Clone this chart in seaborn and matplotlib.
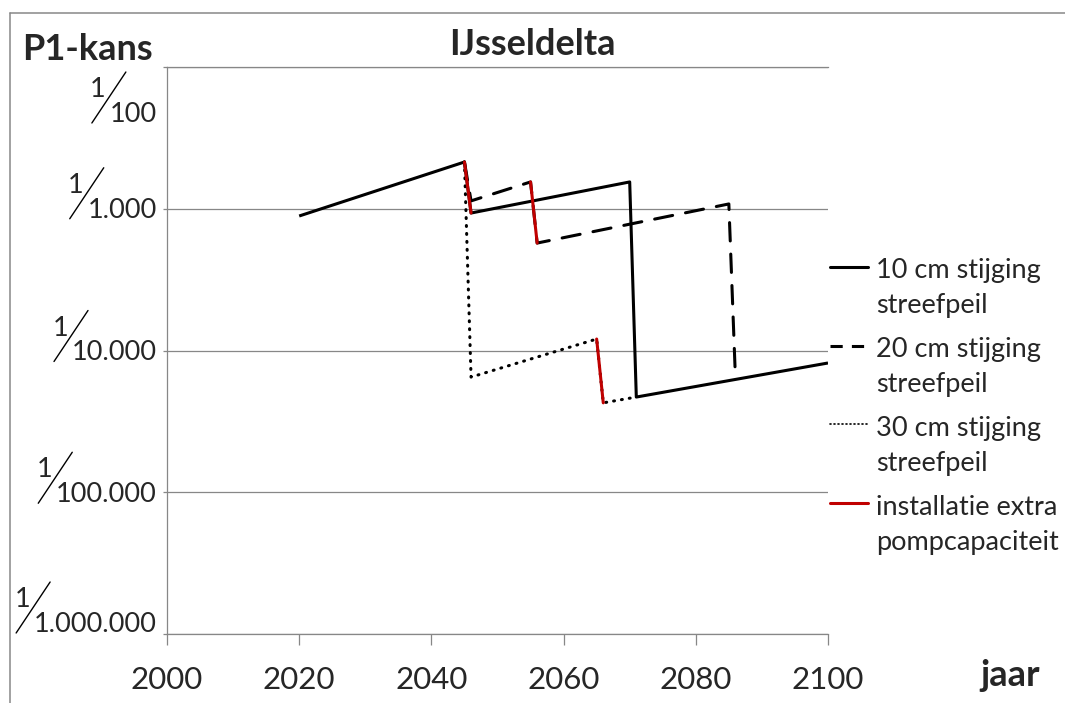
import matplotlib
matplotlib.use("Agg")
import numpy as np
import pandas as pd
import matplotlib.pyplot as plt
from matplotlib import font_manager
from matplotlib.legend_handler import HandlerLine2D
from matplotlib.lines import Line2D
import seaborn as sns

# P1 return periods (1 / kans, years) per scenario of target-level rise
jaar_10cm = [2020, 2045, 2046, 2070, 2071, 2100]
terugkeer_10cm = [1125, 468, 1072, 647, 21300, 12250]

jaar_20cm = [2045, 2046, 2055, 2056, 2085, 2086]
terugkeer_20cm = [468, 880, 647, 1746, 925, 15800]

jaar_30cm = [2045, 2046, 2065, 2066, 2071]
terugkeer_30cm = [468, 15400, 8300, 23400, 21300]

scenario_labels = ["10 cm stijging\nstreefpeil",
                   "20 cm stijging\nstreefpeil",
                   "30 cm stijging\nstreefpeil"]
pomp_label = "installatie extra\npompcapaciteit"

# extra pump capacity installed: (scenario index, year of installation)
pomp_installaties = [(0, 2045), (1, 2055), (2, 2065)]

y_ticks = [1e-2, 1e-3, 1e-4, 1e-5, 1e-6]
y_noemers = ["100", "1.000", "10.000", "100.000", "1.000.000"]
x_ticks = [2000, 2020, 2040, 2060, 2080, 2100]

titel = "IJsseldelta"
y_titel = "P1-kans"
x_titel = "jaar"

# ---------------------------------------------------------------- data frames
series_jaren = [jaar_10cm, jaar_20cm, jaar_30cm]
series_perioden = [terugkeer_10cm, terugkeer_20cm, terugkeer_30cm]

df = pd.concat(
    [pd.DataFrame({"jaar": j, "kans": 1.0 / np.asarray(p, float), "scenario": lab})
     for lab, j, p in zip(scenario_labels, series_jaren, series_perioden)],
    ignore_index=True)

pomp_rows = []
for k, (idx, jr) in enumerate(pomp_installaties):
    jaren, perioden = series_jaren[idx], series_perioden[idx]
    i = jaren.index(jr)
    for j in (i, i + 1):
        pomp_rows.append({"jaar": jaren[j], "kans": 1.0 / perioden[j], "stap": k})
pomp_df = pd.DataFrame(pomp_rows)

# ---------------------------------------------------------------- style
sns.set_style("white")
plt.rcParams["font.family"] = ["Lato", "DejaVu Sans"]
available = {f.name for f in font_manager.fontManager.ttflist}
if "Liberation Sans Narrow" in available:
    tick_font = dict(family=["Liberation Sans Narrow", "DejaVu Sans"], size=24)
else:
    tick_font = dict(family=["Lato", "DejaVu Sans"], size=22.5)

GRID = "#878787"
RED = "#C00000"
LW = 2.2
FS = 19.5
FS_BOLD = 26

W_PX, H_PX = 1065, 703
fig = plt.figure(figsize=(W_PX / 100, H_PX / 100), dpi=100)
ax = fig.add_axes([167 / W_PX, 1 - 634 / H_PX, (828 - 167) / W_PX, (634 - 67) / H_PX])
ax.set_yscale("log")

dash_styles = {scenario_labels[0]: "",
               scenario_labels[1]: (6, 4.3),
               scenario_labels[2]: (0.3, 2.3)}

sns.lineplot(data=df, x="jaar", y="kans", style="scenario",
             style_order=scenario_labels[::-1], dashes=dash_styles,
             color="black", linewidth=LW, estimator=None, sort=False,
             legend=False, ax=ax)
for line in ax.get_lines():
    line.set_dash_capstyle("round")
    line.set_solid_capstyle("butt")

sns.lineplot(data=pomp_df, x="jaar", y="kans", units="stap", estimator=None,
             sort=False, color=RED, linewidth=LW, legend=False, ax=ax, zorder=4)

# ---------------------------------------------------------------- axes
ax.set_xlim(2000, 2100)
ax.set_ylim(1e-6, 1e-2)
ax.set_xticks(x_ticks)
ax.set_xticklabels([str(t) for t in x_ticks], **tick_font)
ax.set_yticks(y_ticks)
ax.set_yticklabels([""] * len(y_ticks))
ax.yaxis.set_minor_locator(matplotlib.ticker.NullLocator())
ax.set_xlabel("")
ax.set_ylabel("")
ax.grid(axis="y", color=GRID, linewidth=0.9)
ax.grid(axis="x", visible=False)
for side in ("left", "bottom", "top"):
    ax.spines[side].set_color(GRID)
    ax.spines[side].set_linewidth(0.9)
ax.spines["right"].set_visible(False)
ax.tick_params(axis="x", direction="out", length=8, width=0.9, color=GRID,
               pad=15, bottom=True)
ax.tick_params(axis="y", direction="out", length=3, width=0.9, color=GRID,
               left=True)


# ---------------------------------------------------------------- legend
class FirstLineHandler(HandlerLine2D):
    """Puts the legend line next to the first line of a two-line label."""

    def __init__(self, shift, **kw):
        super().__init__(**kw)
        self.shift = shift

    def create_artists(self, legend, orig_handle, xdescent, ydescent,
                       width, height, fontsize, trans):
        artists = super().create_artists(legend, orig_handle, xdescent, ydescent,
                                         width, height, fontsize, trans)
        for a in artists:
            a.set_ydata(np.asarray(a.get_ydata(), float) + self.shift * fontsize)
        return artists


handles = [
    Line2D([], [], color="black", lw=LW, ls="-"),
    Line2D([], [], color="black", lw=LW, ls=(0, (4, 3))),
    Line2D([], [], color="black", lw=1.2, ls=(0, (0.6, 1.8)), dash_capstyle="round"),
    Line2D([], [], color=RED, lw=LW, ls="-"),
]
labels = scenario_labels + [pomp_label]
leg = ax.legend(handles, labels, loc="upper left",
                bbox_to_anchor=(830 / W_PX, 1 - 258 / H_PX),
                bbox_transform=fig.transFigure, frameon=False,
                borderpad=0, borderaxespad=0, fontsize=FS,
                handlelength=1.42, handletextpad=0.27, labelspacing=0.7,
                handler_map={Line2D: FirstLineHandler(0.81)})
for t in leg.get_texts():
    t.set_linespacing(1.5)

# ---------------------------------------------------------------- titles and frame
fig.text(0.5, 1 - 55 / H_PX, titel, ha="center", va="baseline",
         fontsize=FS_BOLD, fontweight="bold")
fig.text(22 / W_PX, 1 - 60 / H_PX, y_titel, ha="left", va="baseline",
         fontsize=FS_BOLD, fontweight="bold")
fig.text(980 / W_PX, 1 - 686 / H_PX, x_titel, ha="left", va="baseline",
         fontsize=FS_BOLD, fontweight="bold")

# chart-area border (top and left edges)
fx, fy = 10 / W_PX, 1 - 13 / H_PX
fig.add_artist(Line2D([fx, 1.0], [fy, fy], transform=fig.transFigure,
                      color=GRID, lw=1.1))
fig.add_artist(Line2D([fx, fx], [0.0, fy], transform=fig.transFigure,
                      color=GRID, lw=1.1))

# ---------------------------------------------------------------- fraction tick labels
renderer = fig.canvas.get_renderer()
# baseline distance (px) below each gridline; outer labels are kept inside the axis span
baseline_offsets = [55, 9, 10, 10, -2]
x_right = ax.transAxes.transform((0, 0))[0] - 10
for val, noemer, off in zip(y_ticks, y_noemers, baseline_offsets):
    y_grid = ax.transData.transform((2000, val))[1]
    base = y_grid - off
    t = fig.text(x_right / W_PX, base / H_PX, noemer, ha="right",
                 va="baseline", fontsize=FS)
    left = t.get_window_extent(renderer).x0 + 2
    fig.add_artist(Line2D([(left - 20) / W_PX, (left + 14) / W_PX],
                          [(base - 1) / H_PX, (base + 50) / H_PX],
                          transform=fig.transFigure, color="black", lw=1.0))
    fig.text((left - 6) / W_PX, (base + 25) / H_PX, "1", ha="right",
             va="baseline", fontsize=FS)

fig.savefig("out.png", dpi=100)
